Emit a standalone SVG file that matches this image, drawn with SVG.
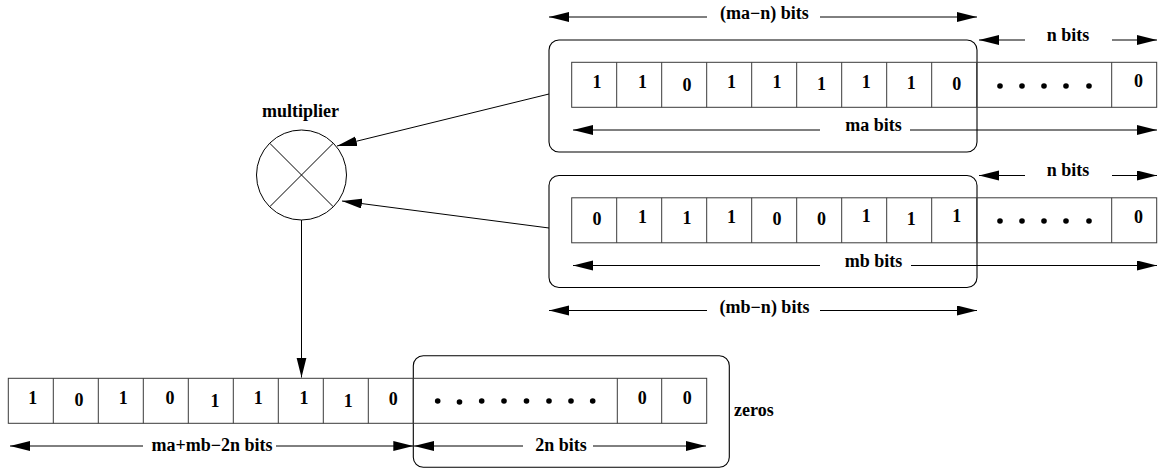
<svg xmlns="http://www.w3.org/2000/svg" width="1161" height="472" viewBox="0 0 1161 472" font-family="'Liberation Serif', 'Times New Roman', 'DejaVu Serif', serif">
<style>
text{font-family:'Liberation Serif','Times New Roman','DejaVu Serif',serif;font-weight:700;font-size:18px;fill:#000}
.c{text-anchor:middle}
.arr{fill:none;stroke:#3a3a3a;stroke-width:1}
.box{fill:none;stroke:#000;stroke-width:1.1}
.ln{fill:none;stroke:#000;stroke-width:1}
.le{marker-end:url(#ah)}
.dot{fill:#000}
</style>
<defs>
<marker id="ah" markerUnits="userSpaceOnUse" markerWidth="21" markerHeight="11" refX="20" refY="5" orient="auto">
<path d="M0,0 L20,5 L0,10 z" fill="#000"/>
</marker>
</defs>

<g id="multiplier">
<circle cx="301.5" cy="175" r="45" class="ln"/>
<path d="M269.7,143.2 L333.3,206.8 M333.3,143.2 L269.7,206.8" class="ln"/>
<text x="300.5" y="117" class="c">multiplier</text>
</g>

<g id="operand-a">
<rect x="549" y="40" width="428" height="112" rx="10" class="box"/>
<rect x="571.7" y="62.3" width="585" height="45" class="arr"/>
<path d="M616.7,62.3V107.3M661.7,62.3V107.3M706.7,62.3V107.3M751.7,62.3V107.3M796.7,62.3V107.3M841.7,62.3V107.3M886.7,62.3V107.3M931.7,62.3V107.3M976.7,62.3V107.3M1111.7,62.3V107.3" class="arr"/>
<text x="597" y="88" class="c">1</text>
<text x="642.5" y="88" class="c">1</text>
<text x="687" y="91" class="c">0</text>
<text x="731.5" y="88" class="c">1</text>
<text x="777" y="88" class="c">1</text>
<text x="821.5" y="90" class="c">1</text>
<text x="866.3" y="88" class="c">1</text>
<text x="911.3" y="89" class="c">1</text>
<text x="956.7" y="90" class="c">0</text>
<circle cx="1000" cy="86" r="2.8" class="dot"/>
<circle cx="1022" cy="86" r="2.8" class="dot"/>
<circle cx="1044" cy="86" r="2.8" class="dot"/>
<circle cx="1066" cy="86" r="2.8" class="dot"/>
<circle cx="1089" cy="86" r="2.8" class="dot"/>
<text x="1138.5" y="87" class="c">0</text>
<path d="M707,17H549" class="ln le"/>
<text x="764.5" y="19" class="c">(ma−n) bits</text>
<path d="M820,17H977" class="ln le"/>
<path d="M1025,40H979" class="ln le"/>
<text x="1068" y="41" class="c">n bits</text>
<path d="M1112,40H1157" class="ln le"/>
<path d="M820,130H573" class="ln le"/>
<text x="873.5" y="131" class="c">ma bits</text>
<path d="M910,130H1157" class="ln le"/>
</g>

<g id="operand-b">
<rect x="549" y="175.5" width="428" height="112" rx="10" class="box"/>
<rect x="571.7" y="197.8" width="585" height="45" class="arr"/>
<path d="M616.7,197.8V242.8M661.7,197.8V242.8M706.7,197.8V242.8M751.7,197.8V242.8M796.7,197.8V242.8M841.7,197.8V242.8M886.7,197.8V242.8M931.7,197.8V242.8M976.7,197.8V242.8M1111.7,197.8V242.8" class="arr"/>
<text x="597" y="225" class="c">0</text>
<text x="642.5" y="223" class="c">1</text>
<text x="687" y="224" class="c">1</text>
<text x="731.5" y="223" class="c">1</text>
<text x="777" y="225" class="c">0</text>
<text x="821.5" y="225" class="c">0</text>
<text x="866.3" y="222" class="c">1</text>
<text x="911.3" y="225" class="c">1</text>
<text x="956.7" y="222" class="c">1</text>
<circle cx="1000" cy="221" r="2.8" class="dot"/>
<circle cx="1022" cy="221" r="2.8" class="dot"/>
<circle cx="1044" cy="221" r="2.8" class="dot"/>
<circle cx="1066" cy="221" r="2.8" class="dot"/>
<circle cx="1089" cy="221" r="2.8" class="dot"/>
<text x="1138.5" y="223" class="c">0</text>
<path d="M1025,175.5H979" class="ln le"/>
<text x="1068" y="176" class="c">n bits</text>
<path d="M1112,175.5H1157" class="ln le"/>
<path d="M820,265.5H573" class="ln le"/>
<text x="873.5" y="266.5" class="c">mb bits</text>
<path d="M911,265.5H1157" class="ln le"/>
<path d="M707,310.5H549" class="ln le"/>
<text x="764.5" y="312.5" class="c">(mb−n) bits</text>
<path d="M820,310.5H977" class="ln le"/>
</g>

<g id="product">
<rect x="413.3" y="355.7" width="316" height="111.5" rx="10" class="box"/>
<rect x="8.3" y="378.3" width="698.4" height="45" class="arr"/>
<path d="M53.3,378.3V423.3M98.3,378.3V423.3M143.3,378.3V423.3M188.3,378.3V423.3M233.3,378.3V423.3M278.3,378.3V423.3M323.3,378.3V423.3M368.3,378.3V423.3M413.3,378.3V423.3M617.3,378.3V423.3M661.7,378.3V423.3" class="arr"/>
<text x="32.7" y="403.5" class="c">1</text>
<text x="79" y="406" class="c">0</text>
<text x="123.3" y="403.5" class="c">1</text>
<text x="170" y="403.5" class="c">0</text>
<text x="215" y="407" class="c">1</text>
<text x="258.3" y="403.5" class="c">1</text>
<text x="304" y="403.5" class="c">1</text>
<text x="348.3" y="407" class="c">1</text>
<text x="393.3" y="404.5" class="c">0</text>
<circle cx="437.7" cy="401" r="2.8" class="dot"/>
<circle cx="459.5" cy="402" r="2.8" class="dot"/>
<circle cx="481.7" cy="401" r="2.8" class="dot"/>
<circle cx="504" cy="401" r="2.8" class="dot"/>
<circle cx="526.5" cy="401" r="2.8" class="dot"/>
<circle cx="549" cy="401" r="2.8" class="dot"/>
<circle cx="571" cy="401" r="2.8" class="dot"/>
<circle cx="592.7" cy="401" r="2.8" class="dot"/>
<text x="642.3" y="403.5" class="c">0</text>
<text x="687.3" y="403.5" class="c">0</text>
<text x="734" y="416">zeros</text>
<path d="M143,446H10" class="ln le"/>
<text x="151.5" y="450.5">ma+mb−2n bits</text>
<path d="M276,446H413.3" class="ln le"/>
<path d="M523,446H414" class="ln le"/>
<text x="561" y="450.5" class="c">2n bits</text>
<path d="M593,446H706" class="ln le"/>
</g>

<g id="connectors">
<path d="M549,94 L337,146" class="ln le"/>
<path d="M549,228 L342,201" class="ln le"/>
<path d="M301.5,220 V377.5" class="ln le"/>
</g>
</svg>
